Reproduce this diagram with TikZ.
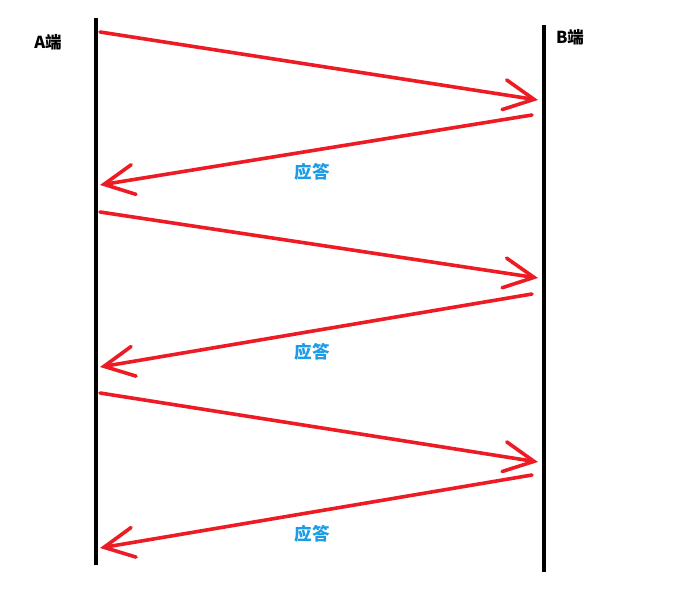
\documentclass[tikz,border=0pt]{standalone}
\usepackage{fontspec}
\setmainfont{Noto Sans CJK SC}
\usepackage{tikz}
\usetikzlibrary{arrows.meta}
\usepackage{xcolor}
\definecolor{accent}{HTML}{ED1C24}
\definecolor{ink}{HTML}{000000}
\definecolor{reply}{HTML}{1C9CE6}
\tikzset{side/.style={draw=ink,line width=4pt},
  msg/.style={draw=accent,line width=3.6pt,line cap=round,
    -{Straight Barb[length=30pt,width=30pt,line cap=round]}},
  tag/.style={font=\bfseries\fontsize{16.5}{18}\selectfont,text=ink},
  ack/.style={font=\bfseries\fontsize{17.5}{19}\selectfont,text=reply}}

\begin{document}
\begin{tikzpicture}[x=1pt,y=-1pt]
    \useasboundingbox (0,0) rectangle (690,594);
    % the two ends
    \coordinate (Atop) at (96,18);  \coordinate (Abot) at (96,565);
    \coordinate (Btop) at (544,25); \coordinate (Bbot) at (544,572);
    \draw[side] (Atop)--(Abot);
    \draw[side] (Btop)--(Bbot);
    \node[tag] (Alabel) at (48,42){A端};
    \node[tag] (Blabel) at (570,37){B端};
    % messages and replies
    \foreach \i/\sa/\ta/\sb/\tb/\ly in {1/32/100/115/185/172,2/212/278/294/367/352,3/393/462/475/548/534}{
      \coordinate (s\i) at (100,\sa); \coordinate (t\i) at (538,\ta);
      \coordinate (r\i) at (532,\sb); \coordinate (q\i) at (100,\tb);
      \draw[msg] (s\i)--(t\i);
      \draw[msg] (r\i)--(q\i);
      \node[ack] (ack\i) at (312,\ly){应答};
    }
  \end{tikzpicture}
\end{document}
